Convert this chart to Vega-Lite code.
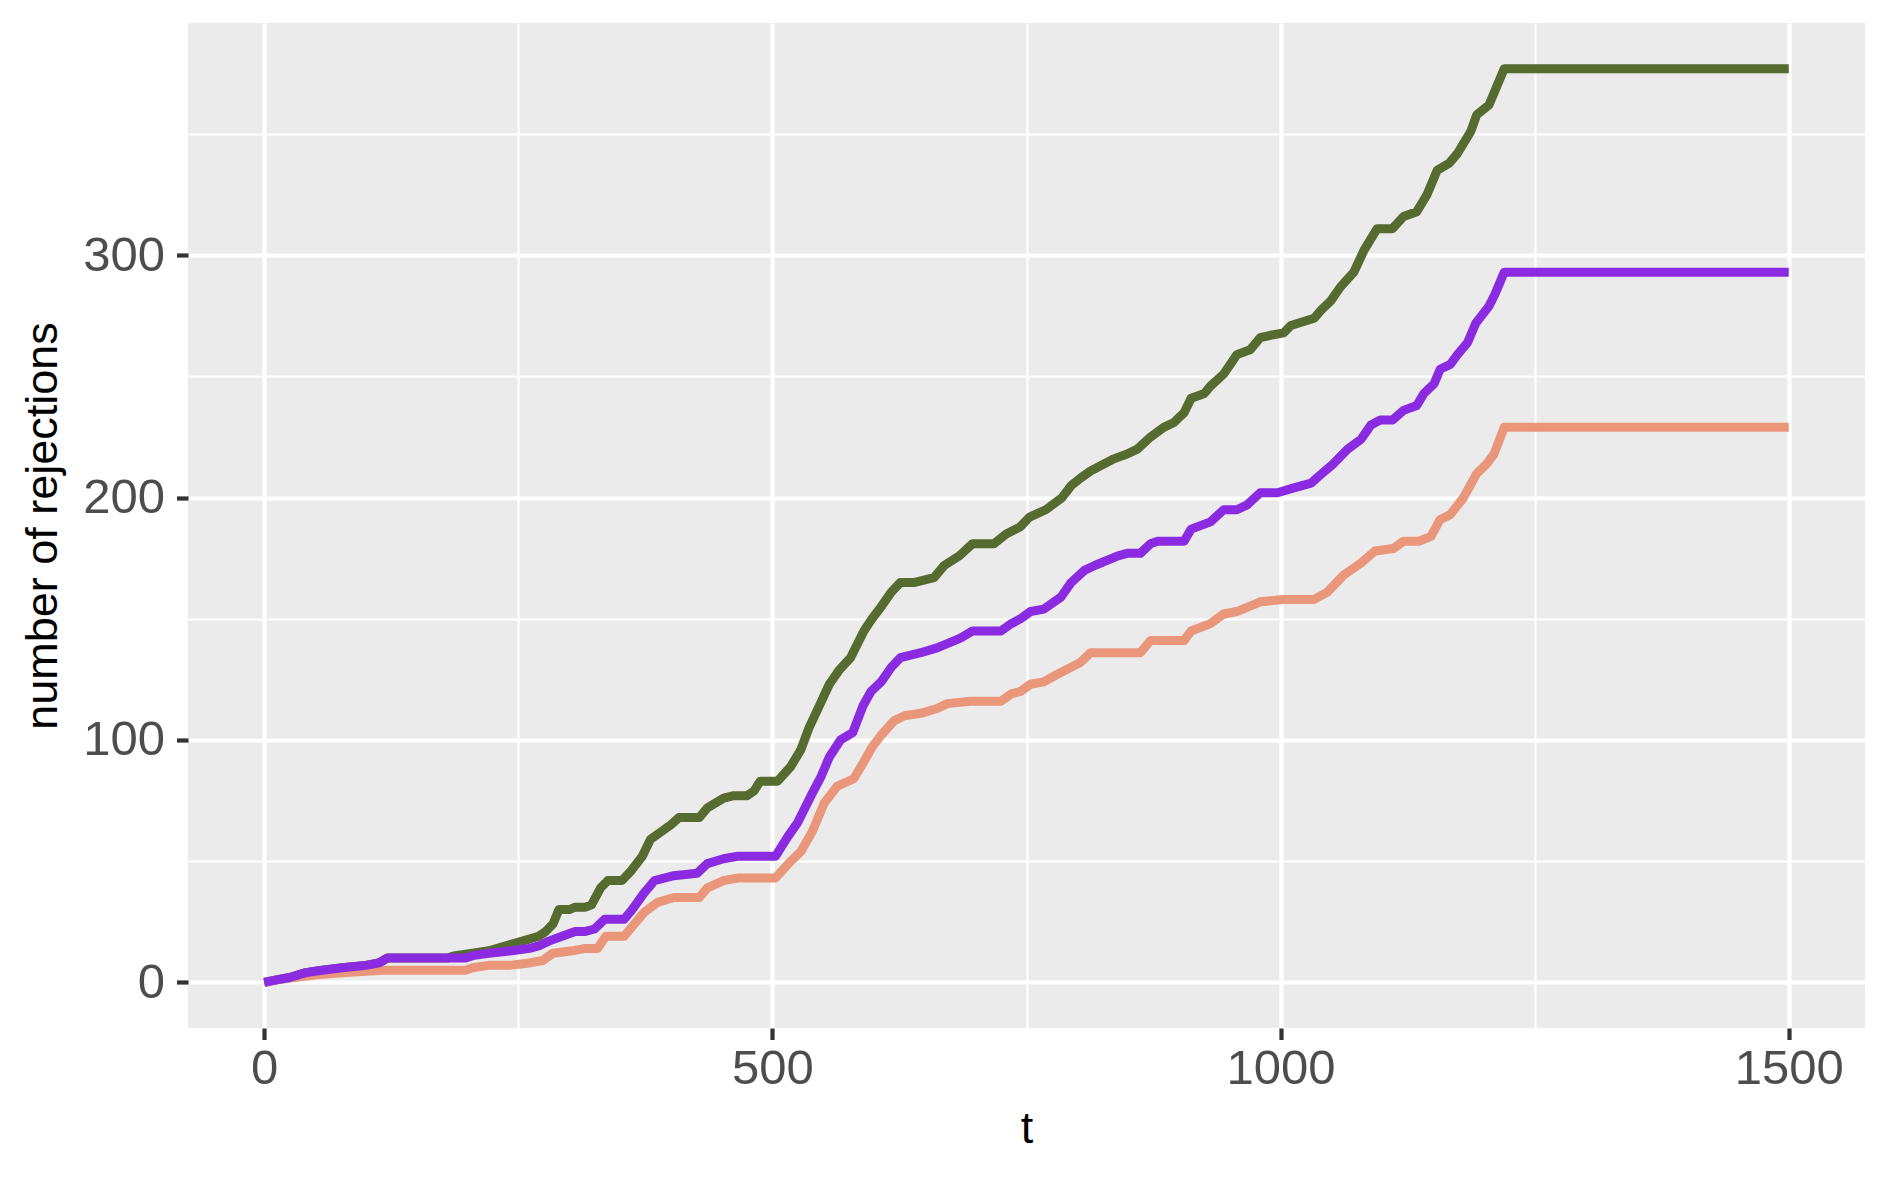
{
  "$schema": "https://vega.github.io/schema/vega-lite/v6.json",
  "autosize": "none",
  "width": 1677,
  "height": 1005,
  "padding": {"left": 188, "top": 23, "right": 23, "bottom": 151},
  "background": "white",
  "config": {
    "view": {"fill": "#EBEBEB", "stroke": null},
    "font": "Liberation Sans",
    "axis": {
      "domain": false,
      "grid": true,
      "gridColor": "white",
      "tickColor": "#333333",
      "tickWidth": 4.2,
      "tickSize": 11.5,
      "labelColor": "#4D4D4D",
      "labelFont": "Liberation Sans",
      "labelFontSize": 49,
      "titleFont": "Liberation Sans",
      "titleFontSize": 45,
      "titleFontWeight": "normal",
      "titleColor": "black",
      "labelFlush": false,
      "labelOverlap": false
    }
  },
  "datasets": {
    "curves": [
      {"t":0,"n":0,"s":"A"},{"t":12,"n":1,"s":"A"},{"t":25,"n":2,"s":"A"},{"t":41,"n":4,"s":"A"},{"t":57,"n":5,"s":"A"},{"t":77,"n":6,"s":"A"},{"t":100,"n":7,"s":"A"},{"t":113,"n":8,"s":"A"},{"t":121,"n":10,"s":"A"},{"t":180,"n":10,"s":"A"},{"t":188,"n":11,"s":"A"},{"t":205,"n":12,"s":"A"},{"t":221,"n":13,"s":"A"},{"t":237,"n":15,"s":"A"},{"t":254,"n":17,"s":"A"},{"t":270,"n":19,"s":"A"},{"t":277,"n":21,"s":"A"},{"t":284,"n":24,"s":"A"},{"t":290,"n":30,"s":"A"},{"t":300,"n":30,"s":"A"},{"t":306,"n":31,"s":"A"},{"t":316,"n":31,"s":"A"},{"t":322,"n":32,"s":"A"},{"t":331,"n":39,"s":"A"},{"t":338,"n":42,"s":"A"},{"t":352,"n":42,"s":"A"},{"t":361,"n":46,"s":"A"},{"t":372,"n":52,"s":"A"},{"t":380,"n":59,"s":"A"},{"t":390,"n":62,"s":"A"},{"t":400,"n":65,"s":"A"},{"t":408,"n":68,"s":"A"},{"t":428,"n":68,"s":"A"},{"t":436,"n":72,"s":"A"},{"t":452,"n":76,"s":"A"},{"t":462,"n":77,"s":"A"},{"t":475,"n":77,"s":"A"},{"t":482,"n":79,"s":"A"},{"t":488,"n":83,"s":"A"},{"t":505,"n":83,"s":"A"},{"t":518,"n":89,"s":"A"},{"t":528,"n":96,"s":"A"},{"t":536,"n":105,"s":"A"},{"t":546,"n":114,"s":"A"},{"t":556,"n":123,"s":"A"},{"t":566,"n":129,"s":"A"},{"t":577,"n":134,"s":"A"},{"t":590,"n":145,"s":"A"},{"t":598,"n":150,"s":"A"},{"t":607,"n":155,"s":"A"},{"t":617,"n":161,"s":"A"},{"t":626,"n":165,"s":"A"},{"t":640,"n":165,"s":"A"},{"t":659,"n":167,"s":"A"},{"t":669,"n":172,"s":"A"},{"t":684,"n":176,"s":"A"},{"t":697,"n":181,"s":"A"},{"t":718,"n":181,"s":"A"},{"t":730,"n":185,"s":"A"},{"t":744,"n":188,"s":"A"},{"t":753,"n":192,"s":"A"},{"t":769,"n":195,"s":"A"},{"t":785,"n":200,"s":"A"},{"t":794,"n":205,"s":"A"},{"t":803,"n":208,"s":"A"},{"t":813,"n":211,"s":"A"},{"t":836,"n":216,"s":"A"},{"t":849,"n":218,"s":"A"},{"t":859,"n":220,"s":"A"},{"t":872,"n":225,"s":"A"},{"t":885,"n":229,"s":"A"},{"t":895,"n":231,"s":"A"},{"t":905,"n":235,"s":"A"},{"t":912,"n":241,"s":"A"},{"t":925,"n":243,"s":"A"},{"t":931,"n":246,"s":"A"},{"t":944,"n":251,"s":"A"},{"t":957,"n":259,"s":"A"},{"t":970,"n":261,"s":"A"},{"t":980,"n":266,"s":"A"},{"t":990,"n":267,"s":"A"},{"t":1003,"n":268,"s":"A"},{"t":1010,"n":271,"s":"A"},{"t":1033,"n":274,"s":"A"},{"t":1039,"n":277,"s":"A"},{"t":1049,"n":281,"s":"A"},{"t":1059,"n":287,"s":"A"},{"t":1072,"n":293,"s":"A"},{"t":1082,"n":302,"s":"A"},{"t":1095,"n":311,"s":"A"},{"t":1110,"n":311,"s":"A"},{"t":1121,"n":316,"s":"A"},{"t":1134,"n":318,"s":"A"},{"t":1144,"n":325,"s":"A"},{"t":1154,"n":335,"s":"A"},{"t":1166,"n":338,"s":"A"},{"t":1174,"n":342,"s":"A"},{"t":1187,"n":351,"s":"A"},{"t":1193,"n":358,"s":"A"},{"t":1205,"n":362,"s":"A"},{"t":1210,"n":367,"s":"A"},{"t":1220,"n":377,"s":"A"},{"t":1500,"n":377,"s":"A"},

      {"t":0,"n":0,"s":"C"},{"t":12,"n":1,"s":"C"},{"t":30,"n":2,"s":"C"},{"t":50,"n":3,"s":"C"},{"t":80,"n":4,"s":"C"},{"t":116,"n":5,"s":"C"},{"t":198,"n":5,"s":"C"},{"t":205,"n":6,"s":"C"},{"t":221,"n":7,"s":"C"},{"t":241,"n":7,"s":"C"},{"t":261,"n":8,"s":"C"},{"t":274,"n":9,"s":"C"},{"t":284,"n":12,"s":"C"},{"t":303,"n":13,"s":"C"},{"t":316,"n":14,"s":"C"},{"t":328,"n":14,"s":"C"},{"t":336,"n":19,"s":"C"},{"t":354,"n":19,"s":"C"},{"t":362,"n":23,"s":"C"},{"t":374,"n":29,"s":"C"},{"t":387,"n":33,"s":"C"},{"t":403,"n":35,"s":"C"},{"t":428,"n":35,"s":"C"},{"t":436,"n":39,"s":"C"},{"t":452,"n":42,"s":"C"},{"t":466,"n":43,"s":"C"},{"t":503,"n":43,"s":"C"},{"t":518,"n":50,"s":"C"},{"t":528,"n":54,"s":"C"},{"t":539,"n":62,"s":"C"},{"t":551,"n":74,"s":"C"},{"t":564,"n":81,"s":"C"},{"t":580,"n":84,"s":"C"},{"t":590,"n":91,"s":"C"},{"t":598,"n":97,"s":"C"},{"t":607,"n":102,"s":"C"},{"t":620,"n":108,"s":"C"},{"t":630,"n":110,"s":"C"},{"t":646,"n":111,"s":"C"},{"t":662,"n":113,"s":"C"},{"t":672,"n":115,"s":"C"},{"t":695,"n":116,"s":"C"},{"t":725,"n":116,"s":"C"},{"t":735,"n":119,"s":"C"},{"t":744,"n":120,"s":"C"},{"t":754,"n":123,"s":"C"},{"t":767,"n":124,"s":"C"},{"t":780,"n":127,"s":"C"},{"t":794,"n":130,"s":"C"},{"t":803,"n":132,"s":"C"},{"t":813,"n":136,"s":"C"},{"t":862,"n":136,"s":"C"},{"t":872,"n":141,"s":"C"},{"t":905,"n":141,"s":"C"},{"t":912,"n":145,"s":"C"},{"t":931,"n":148,"s":"C"},{"t":944,"n":152,"s":"C"},{"t":957,"n":153,"s":"C"},{"t":980,"n":157,"s":"C"},{"t":1003,"n":158,"s":"C"},{"t":1033,"n":158,"s":"C"},{"t":1046,"n":161,"s":"C"},{"t":1062,"n":168,"s":"C"},{"t":1079,"n":173,"s":"C"},{"t":1093,"n":178,"s":"C"},{"t":1111,"n":179,"s":"C"},{"t":1121,"n":182,"s":"C"},{"t":1136,"n":182,"s":"C"},{"t":1148,"n":184,"s":"C"},{"t":1157,"n":191,"s":"C"},{"t":1167,"n":193,"s":"C"},{"t":1180,"n":200,"s":"C"},{"t":1193,"n":210,"s":"C"},{"t":1203,"n":214,"s":"C"},{"t":1210,"n":218,"s":"C"},{"t":1220,"n":229,"s":"C"},{"t":1500,"n":229,"s":"C"},

      {"t":0,"n":0,"s":"B"},{"t":12,"n":1,"s":"B"},{"t":25,"n":2,"s":"B"},{"t":41,"n":4,"s":"B"},{"t":57,"n":5,"s":"B"},{"t":77,"n":6,"s":"B"},{"t":100,"n":7,"s":"B"},{"t":113,"n":8,"s":"B"},{"t":121,"n":10,"s":"B"},{"t":198,"n":10,"s":"B"},{"t":205,"n":11,"s":"B"},{"t":221,"n":12,"s":"B"},{"t":244,"n":13,"s":"B"},{"t":261,"n":14,"s":"B"},{"t":270,"n":15,"s":"B"},{"t":280,"n":17,"s":"B"},{"t":293,"n":19,"s":"B"},{"t":306,"n":21,"s":"B"},{"t":316,"n":21,"s":"B"},{"t":325,"n":22,"s":"B"},{"t":335,"n":26,"s":"B"},{"t":354,"n":26,"s":"B"},{"t":362,"n":30,"s":"B"},{"t":374,"n":37,"s":"B"},{"t":384,"n":42,"s":"B"},{"t":403,"n":44,"s":"B"},{"t":426,"n":45,"s":"B"},{"t":436,"n":49,"s":"B"},{"t":452,"n":51,"s":"B"},{"t":466,"n":52,"s":"B"},{"t":503,"n":52,"s":"B"},{"t":515,"n":60,"s":"B"},{"t":525,"n":66,"s":"B"},{"t":538,"n":77,"s":"B"},{"t":548,"n":85,"s":"B"},{"t":556,"n":93,"s":"B"},{"t":567,"n":100,"s":"B"},{"t":579,"n":103,"s":"B"},{"t":589,"n":114,"s":"B"},{"t":597,"n":120,"s":"B"},{"t":607,"n":124,"s":"B"},{"t":617,"n":130,"s":"B"},{"t":626,"n":134,"s":"B"},{"t":646,"n":136,"s":"B"},{"t":662,"n":138,"s":"B"},{"t":685,"n":142,"s":"B"},{"t":697,"n":145,"s":"B"},{"t":725,"n":145,"s":"B"},{"t":735,"n":148,"s":"B"},{"t":744,"n":150,"s":"B"},{"t":754,"n":153,"s":"B"},{"t":767,"n":154,"s":"B"},{"t":784,"n":159,"s":"B"},{"t":794,"n":165,"s":"B"},{"t":807,"n":170,"s":"B"},{"t":817,"n":172,"s":"B"},{"t":840,"n":176,"s":"B"},{"t":849,"n":177,"s":"B"},{"t":862,"n":177,"s":"B"},{"t":872,"n":181,"s":"B"},{"t":879,"n":182,"s":"B"},{"t":905,"n":182,"s":"B"},{"t":912,"n":187,"s":"B"},{"t":931,"n":190,"s":"B"},{"t":944,"n":195,"s":"B"},{"t":957,"n":195,"s":"B"},{"t":967,"n":197,"s":"B"},{"t":980,"n":202,"s":"B"},{"t":997,"n":202,"s":"B"},{"t":1013,"n":204,"s":"B"},{"t":1030,"n":206,"s":"B"},{"t":1038,"n":209,"s":"B"},{"t":1052,"n":214,"s":"B"},{"t":1066,"n":220,"s":"B"},{"t":1079,"n":224,"s":"B"},{"t":1089,"n":230,"s":"B"},{"t":1098,"n":232,"s":"B"},{"t":1110,"n":232,"s":"B"},{"t":1121,"n":236,"s":"B"},{"t":1134,"n":238,"s":"B"},{"t":1141,"n":243,"s":"B"},{"t":1151,"n":247,"s":"B"},{"t":1157,"n":253,"s":"B"},{"t":1167,"n":255,"s":"B"},{"t":1174,"n":259,"s":"B"},{"t":1184,"n":264,"s":"B"},{"t":1192,"n":272,"s":"B"},{"t":1205,"n":279,"s":"B"},{"t":1211,"n":284,"s":"B"},{"t":1220,"n":293,"s":"B"},{"t":1500,"n":293,"s":"B"}
    ]
  },
  "data": {"name": "curves"},
  "encoding": {
    "x": {
      "field": "t",
      "type": "quantitative",
      "scale": {"domain": [-75, 1575], "nice": false, "zero": false},
      "axis": {
        "title": "t",
        "values": [0, 250, 500, 750, 1000, 1250, 1500],
        "labelExpr": "datum.value % 500 === 0 ? format(datum.value, 'd') : ''",
        "gridWidth": {"condition": {"test": "datum.value % 500 === 0", "value": 4.2}, "value": 2.1},
        "tickOpacity": {"condition": {"test": "datum.value % 500 === 0", "value": 1}, "value": 0},
        "labelPadding": 5,
        "titleX": 838.5,
        "titleY": 100,
        "titleBaseline": "middle"
      }
    },
    "y": {
      "field": "n",
      "type": "quantitative",
      "scale": {"domain": [-18.85, 395.85], "nice": false, "zero": false},
      "axis": {
        "title": "number of rejections",
        "values": [0, 50, 100, 150, 200, 250, 300, 350],
        "labelExpr": "datum.value % 100 === 0 ? format(datum.value, 'd') : ''",
        "gridWidth": {"condition": {"test": "datum.value % 100 === 0", "value": 4.2}, "value": 2.1},
        "tickOpacity": {"condition": {"test": "datum.value % 100 === 0", "value": 1}, "value": 0},
        "labelPadding": 12,
        "titleX": -146,
        "titleY": 502.5,
        "titleAngle": -90,
        "titleBaseline": "middle"
      }
    },
    "color": {
      "field": "s",
      "type": "nominal",
      "legend": null,
      "scale": {"domain": ["A", "B", "C"], "range": ["#556B2F", "#8A2BE2", "#E9967A"]}
    }
  },
  "layer": [
    {"transform": [{"filter": "datum.s === 'A'"}], "mark": {"type": "line", "strokeWidth": 9, "strokeJoin": "round"}},
    {"transform": [{"filter": "datum.s === 'C'"}], "mark": {"type": "line", "strokeWidth": 9, "strokeJoin": "round"}},
    {"transform": [{"filter": "datum.s === 'B'"}], "mark": {"type": "line", "strokeWidth": 9, "strokeJoin": "round"}}
  ]
}
